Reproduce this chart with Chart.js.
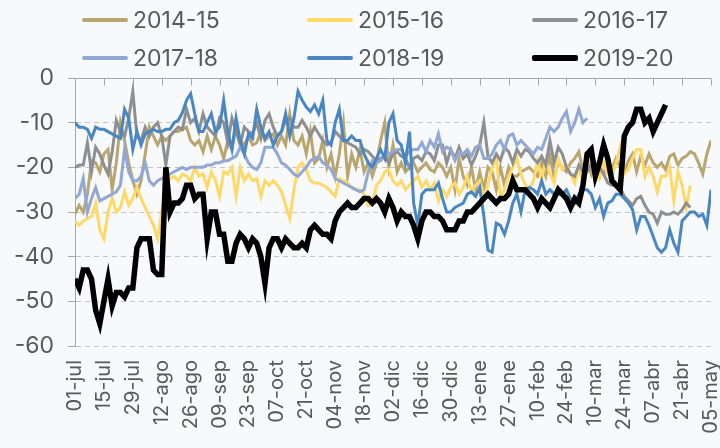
<!DOCTYPE html>
<html>
<head>
<meta charset="utf-8">
<script src="https://cdn.jsdelivr.net/npm/chart.js@4.4.1/dist/chart.umd.min.js"></script>
<style>
  html, body { margin: 0; padding: 0; background: #f8f9fb; overflow: hidden; }
  #wrap { position: relative; width: 720px; height: 448px; }
  #legend { position: absolute; left: 0; top: 0; width: 720px; height: 78px; font-family: Inter, sans-serif; font-size: 23px; color: #595959; }
  .item { position: absolute; display: flex; align-items: center; height: 30px; }
  .swatch { width: 46px; margin-right: 5px; border-radius: 2px; }
</style>
</head>
<body>
<div id="wrap">
  <canvas id="myChart" width="720" height="448"></canvas>
  <div id="legend"></div>
</div>
<script>
// seasons and x axis tick labels (one tick every 14 days)
var seasons = ['2014-15', '2015-16', '2016-17', '2017-18', '2018-19', '2019-20'];
var tickLabels = ['01-jul', '15-jul', '29-jul', '12-ago', '26-ago', '09-sep', '23-sep', '07-oct', '21-oct',
  '04-nov', '18-nov', '02-dic', '16-dic', '30-dic', '13-ene', '27-ene', '10-feb', '24-feb', '10-mar',
  '24-mar', '07-abr', '21-abr', '05-may'];

// day number since 01-jul, one value every 2 days
var days = [];
for (var d = 0; d <= 308; d += 2) days.push(d);

var s1415 = [-30.5,-28.5,-30,-26,-18.5,-19,-21,-17,-16,-25,
  -19,-10,-14,-19,-23,-26,-23,-17,-11,-13,
  -15,-13,-14,-13,-12,-12,-11.5,-11,-14,-15,
  -14,-16.5,-13,-16,-13,-15,-18,-14,-16,-11,
  -14,-15,-13,-15,-14.5,-12,-14,-13,-12.5,-15,
  -13,-15,-8,-14,-15,-13,-17,-12,-19,-18,
  -14,-20,-17,-22,-17,-10,-22,-17,-20,-16,
  -21,-19,-22,-19,-14,-10,-20,-15,-21,-19,
  -21,-20,-19,-21,-20,-19,-20.5,-21,-19,-20,
  -22,-20,-25,-18,-22,-24,-20,-25,-21,-25,
  -20,-21,-25,-20,-24,-20,-22,-22,-21,-20.5,
  -20,-21,-22,-19,-22,-17.5,-22,-19,-20,-21,
  -19,-18,-16.5,-21,-18,-21.5,-19,-20.5,-21.5,-19,
  -20.5,-18,-20,-21,-18.5,-17,-21,-17.5,-19.5,-17,
  -19,-20,-19,-20.5,-17.5,-17,-19.5,-18,-17.5,-16.5,
  -17,-19,-21.5,-17,-14];

var s1516 = [-32,-33,-32,-31.5,-31,-28,-34,-36,-30,-27,
  -30,-29,-25.5,-28.5,-27,-24.5,-27,-29,-31,-33,
  -36,-30,-24,-22.5,-22,-23,-21.5,-22,-23,-20,
  -22,-21.5,-24.5,-21,-23,-26.5,-21,-21.5,-20,-26.5,
  -20,-23,-21.5,-23,-22.5,-26.5,-23,-24,-23,-24,
  -25.5,-28.5,-31.5,-25,-20,-19,-20.5,-23,-23.5,-23.5,
  -24,-24.5,-25.5,-26.5,-22.5,-23,-23.5,-24.5,-25,-25,
  -26,-28.5,-28,-24,-23,-21,-20.5,-23,-24,-23,
  -25,-24,-23,-22,-24.5,-23,-25,-23.5,-27.5,-25,
  -26.5,-24.5,-23.5,-26,-24.5,-22,-25.5,-24,-23,-26.5,
  -24,-20,-18,-26.5,-25,-22,-20,-18,-21.5,-24,
  -25,-23,-18.5,-22.5,-18.5,-21.5,-23.5,-18,-20.5,-19.5,
  -21.5,-23.5,-20,-23.5,-19,-18.5,-20.5,-22.5,-19,-21.5,
  -22,-19,-15.5,-21.5,-20.5,-18,-16,-16,-22,-20,
  -22,-25.5,-22,-22,-20,-27.5,-21,-24,-29,-24];

var s1617 = [-20,-19.5,-19.5,-14.5,-21,-15.5,-17,-19.5,-21.5,-16.5,
  -9.5,-12,-13,-9,-3,-13,-14,-11,-13,-11,
  -10,-13,-19.5,-13,-12,-11,-11.5,-7,-10,-9,
  -12,-8,-11,-12,-13,-9,-10,-14.5,-9,-12,
  -15,-11,-12,-12.5,-10,-13.5,-9.5,-8,-11,-13,
  -12,-9.5,-9,-11,-11,-9.5,-11,-13,-11,-12.5,
  -14,-15,-14.5,-12,-13,-14,-14.5,-15,-15.5,-17,
  -16,-16.5,-17.5,-18.5,-18,-17.5,-19,-17,-16.5,-17.5,
  -18,-20,-18,-17.5,-18.5,-16.5,-17,-18.5,-15,-15,
  -19,-16,-18,-15.5,-18,-17,-19.5,-17.5,-15,-10,
  -17.5,-19,-17,-18.5,-15.5,-16.5,-19,-16,-17.5,-16,
  -16.5,-18,-19,-17.5,-19.5,-14,-19,-15.5,-17,-20,
  -21.5,-22,-19.5,-21,-21,-19.5,-19.5,-20,-21.5,-23.5,
  -24,-24,-24.5,-26.5,-27.5,-28.5,-27,-26.5,-28.5,-30,
  -30.5,-32.5,-30,-30.5,-30.5,-30,-30.5,-29.5,-28,-29];

var s1718 = [-27,-26,-22.5,-30,-27,-24.5,-27.5,-27,-26.5,-26,
  -25.5,-24,-16,-21,-23,-23,-22,-19,-23,-24,
  -23,-22.5,-22,-21.5,-21,-20.5,-20,-20.5,-20,-20,
  -20,-20,-19.5,-19.5,-19,-19,-18.5,-18.5,-18,-17.5,
  -15.5,-17,-19,-20,-20.5,-19,-15.5,-15.5,-15.5,-17,
  -19,-19.5,-20.5,-21.5,-22,-21,-20,-18.5,-18,-17.5,
  -19,-19.5,-20.5,-22.5,-23,-23.5,-24,-24.5,-25,-25.5,
  -25,-21,-18.5,-19,-18.5,-17.5,-17,-16.5,-16,-16,
  -17.5,-16.5,-16,-16,-14.5,-16.5,-14,-15.5,-12.5,-16.5,
  -15.5,-16,-18.5,-16.5,-17,-16,-17.5,-15.5,-15,-18,
  -18,-17,-15,-14,-16,-13,-12.5,-15,-14,-15,
  -16,-17,-15.5,-16,-13.5,-11,-12,-11,-9,-7.5,
  -12,-10,-7,-10,-9];

var s1819 = [-10,-11,-11,-11.5,-13.5,-11,-11.5,-11.5,-12,-12.5,
  -13,-13.5,-7,-9,-16,-12,-15,-12.5,-12,-11.5,
  -12,-12,-11.5,-11.5,-10,-9.5,-7.8,-5,-3.5,-8,
  -12,-12,-10,-8,-12,-11,-5,-12,-16,-9,
  -14,-17,-12.5,-13.5,-7,-11,-13.5,-12,-15,-13,
  -12,-8,-13,-9,-3,-5,-6.5,-7.5,-6,-8,
  -5,-14,-15,-10,-7,-14,-14,-13,-14,-14,
  -17,-19,-20,-18,-16,-18,-10,-8,-14,-15,
  -19,-12,-28,-33,-26,-25,-25,-25,-23.5,-27,
  -30,-30,-29,-28.5,-28,-26,-25.5,-26.5,-24.5,-31,
  -38.5,-39,-32.5,-33,-35,-32,-28,-26,-30,-25,
  -24.5,-25,-26,-23,-26,-25,-26,-26,-26,-25,
  -27,-28,-26,-25,-25,-26,-29,-27,-31,-28,
  -27.5,-26,-26,-27,-28,-29.5,-34,-31,-31,-33,
  -35.5,-38,-39,-38,-34,-37,-39,-32,-31,-30,
  -30,-31,-30.5,-33,-25];

var s1920 = [-45,-47,-43,-43,-45,-52,-55,-50,-45,-51,
  -48,-48,-49,-47,-47,-38,-36,-36,-36,-43,
  -44,-44,-20,-30,-28,-28,-27,-24,-24,-27,
  -26,-26,-36,-30,-30,-35,-35,-41,-41,-37,
  -35,-36,-38,-36,-37,-40,-46,-38,-36,-36,
  -38,-36,-37,-38,-38,-37,-38,-34,-33,-34,
  -35,-35,-36,-32,-30,-29,-28,-29,-29,-28,
  -27,-27,-28,-27,-28,-30,-27,-29,-32,-30,
  -31,-31,-33,-36,-32,-30,-30,-31,-31,-32,
  -34,-34,-34,-32,-32,-30,-30,-29,-28,-27,
  -26,-27,-28,-27,-27,-26,-23,-25,-25,-25,
  -26,-27,-29,-27,-28,-29,-27,-25,-26,-27,
  -29,-27,-28,-24,-17,-16,-22,-19,-15,-18,
  -23,-24,-25,-13,-11,-10,-7,-7,-10,-9,
  -12,-10,-8,-6];

var seriesValues = [s1415, s1516, s1617, s1718, s1819, s1920];
var lineColors = ['#b9a56e', '#ffd966', '#8f8f8f', '#92a8d4', '#4a87c2', '#000000'];
var lineWidths = [3, 3, 3, 3, 3, 5.5];

function toPoints(values) {
  return values.map(function (v, i) { return { x: days[i], y: v }; });
}

// solid axis line along y = 0 with inward tick marks, like the original
var topAxis = {
  id: 'topAxis',
  beforeDatasetsDraw: function (chart) {
    var ctx = chart.ctx, xs = chart.scales.x, ys = chart.scales.y;
    var y0 = Math.round(ys.getPixelForValue(0)) + 0.5;
    ctx.save();
    ctx.strokeStyle = '#a6a6a6';
    ctx.lineWidth = 1;
    ctx.beginPath();
    ctx.moveTo(chart.chartArea.left - 7, y0);
    ctx.lineTo(chart.chartArea.right, y0);
    xs.ticks.forEach(function (t) {
      var px = Math.round(xs.getPixelForValue(t.value)) + 0.5;
      ctx.moveTo(px, y0);
      ctx.lineTo(px, y0 + 7);
    });
    ctx.stroke();
    ctx.restore();
  }
};

function BuildChart() {
  var ctx = document.getElementById('myChart').getContext('2d');
  var datasets = seasons.map(function (name, i) {
    return {
      label: name,
      data: toPoints(seriesValues[i]),
      borderColor: lineColors[i],
      backgroundColor: lineColors[i],
      borderWidth: lineWidths[i],
      pointRadius: 0,
      tension: 0,
      order: seasons.length - i // later seasons drawn on top
    };
  });
  return new Chart(ctx, {
    type: 'line',
    data: { datasets: datasets },
    plugins: [topAxis],
    options: {
      responsive: false,
      animation: false,
      layout: { padding: { top: 78, left: 0, right: 0, bottom: 0 } },
      plugins: { legend: { display: false }, tooltip: { enabled: false } },
      scales: {
        x: {
          type: 'linear', min: 0, max: 308,
          grid: { display: false },
          border: { display: false },
          ticks: {
            stepSize: 14, autoSkip: false, maxRotation: 90, minRotation: 90,
            padding: 6, color: '#595959', font: { family: 'Inter', size: 20 },
            callback: function (v) { return tickLabels[v / 14]; }
          },
          afterFit: function (scale) { scale.height = 102; scale.paddingRight = 9; }
        },
        y: {
          min: -60, max: 0,
          ticks: { stepSize: 10, padding: 14, color: '#595959', font: { family: 'Inter', size: 23 } },
          grid: {
            color: function (c) { return c.tick && c.tick.value === 0 ? 'rgba(0,0,0,0)' : '#c4c4c4'; },
            tickColor: '#a6a6a6', tickLength: 7
          },
          border: { color: '#a6a6a6', width: 1, dash: [5, 4] },
          afterFit: function (scale) { scale.width = 75; }
        }
      }
    }
  });
}

function BuildLegend(chart) {
  var box = document.getElementById('legend');
  chart.data.datasets.forEach(function (ds, i) {
    var item = document.createElement('div');
    item.className = 'item';
    item.style.left = (82 + (i % 3) * 225) + 'px';
    item.style.top = (i < 3 ? 5 : 43) + 'px';
    var sw = document.createElement('span');
    sw.className = 'swatch';
    sw.style.height = (ds.borderWidth + 1) + 'px';
    sw.style.background = ds.borderColor;
    var txt = document.createElement('span');
    txt.textContent = ds.label;
    item.appendChild(sw);
    item.appendChild(txt);
    box.appendChild(item);
  });
}

window.onload = function () {
  var chart = BuildChart();
  BuildLegend(chart);
};
</script>
</body>
</html>
